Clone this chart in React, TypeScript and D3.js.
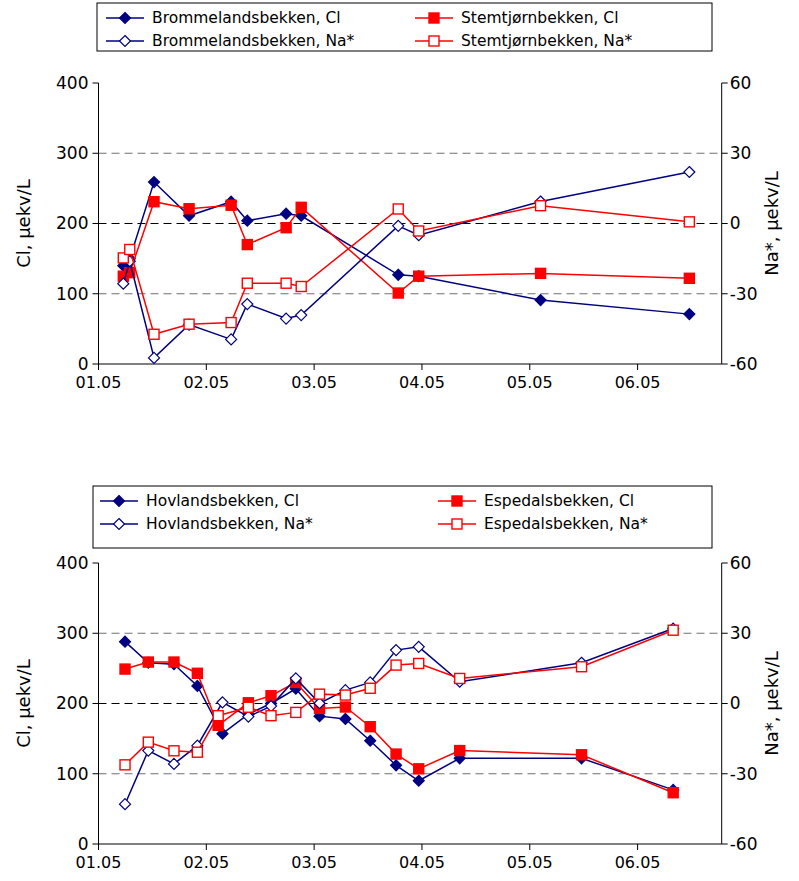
import React from 'react'
import * as d3 from 'd3'

// x values are months after 01.05 (fractional)
const topX1 = [0.23, 0.29, 0.515, 0.84, 1.23, 1.38, 1.74, 1.88, 2.78, 2.97, 4.1, 5.48]
const brommCl = [140, 150, 259, 211, 231, 204, 214, 211, 127, 125, 91, 71]
const stemCl = [125, 130, 231, 221, 226, 170, 194, 223, 101, 125, 129, 122]
const brommNa = [-25.7, -16.1, -57.4, -43.2, -49.5, -34.4, -40.6, -39.1, -1, -5, 9.4, 22]
const stemNa = [-14.7, -11.1, -47.3, -43, -42.3, -25.5, -25.5, -26.9, 6.2, -3.2, 7.6, 0.7]

const botX = [0.246, 0.462, 0.7, 0.917, 1.15, 1.39, 1.6, 1.83, 2.05, 2.29, 2.52, 2.76, 2.97, 3.35, 4.48, 5.33]
const espX = [0.246, 0.462, 0.7, 0.917, 1.11, 1.39, 1.6, 1.83, 2.05, 2.29, 2.52, 2.76, 2.97, 3.35, 4.48, 5.33]
const hovCl = [288, 258, 256, 225, 157, 185, 200, 221, 182, 178, 147, 112, 90, 122, 122, 77]
const hovNa = [-43, -20.1, -25.8, -18, 0.5, -5.6, -1.1, 10.7, 0.1, 5.7, 9, 22.8, 24.2, 9.3, 17.4, 32]
const espCl = [249, 259, 259, 243, 169, 201, 211, 230, 193, 195, 167, 128, 107, 133, 127, 73]
const espNa = [-26.2, -16.5, -20.2, -20.8, -5.2, -1.6, -5.2, -3.8, 4, 3.6, 6.5, 16.4, 17.1, 10.7, 15.7, 31.3]

const monthLabels = ['01.05', '02.05', '03.05', '04.05', '05.05', '06.05']
const clTicks = [0, 100, 200, 300, 400]
const naTicks = [-60, -30, 0, 30, 60]

const NAVY = '#000080'
const RED = '#ff0000'
const FONT = '"DejaVu Sans", Arial, sans-serif'

type Series = { name: string; x: number[]; y: number[]; color: string; shape: 'diamond' | 'square'; filled: boolean; axis: 'cl' | 'na' }

function Marker({ shape, filled, color, cx, cy }: { shape: string; filled: boolean; color: string; cx: number; cy: number }) {
  if (shape === 'diamond') {
    const r = 5.5
    return <path d={`M${cx},${cy - r}L${cx + r},${cy}L${cx},${cy + r}L${cx - r},${cy}Z`} fill={filled ? color : '#fff'} stroke={color} strokeWidth={1.2} />
  }
  const s = 5
  return <rect x={cx - s} y={cy - s} width={2 * s} height={2 * s} fill={filled ? color : '#fff'} stroke={color} strokeWidth={1.4} />
}

function Panel({ top, series, legendCols, legendBox }: { top: number; series: Series[]; legendCols: number[]; legendBox: [number, number, number, number] }) {
  const left = 98.5
  const right = 721.7
  const y0 = top + 281
  const y1 = top
  const x = d3.scaleLinear().domain([0, 5.78]).range([left, right])
  const yCl = d3.scaleLinear().domain([0, 400]).range([y0, y1])
  const yNa = d3.scaleLinear().domain([-60, 60]).range([y0, y1])
  const [bx, by, bw, bh] = legendBox
  return (
    <g fontFamily={FONT}>
      {[100, 200, 300].map((v) => (
        <line key={v} x1={left} x2={right} y1={yCl(v)} y2={yCl(v)} stroke={v === 200 ? '#000' : '#707070'} strokeDasharray="8,5" strokeWidth={1.2} />
      ))}
      <line x1={left} x2={left} y1={y1} y2={y0} stroke="#000" />
      <line x1={right} x2={right} y1={y1} y2={y0} stroke="#000" />
      <line x1={left} x2={right} y1={y0} y2={y0} stroke="#000" />
      {clTicks.map((v) => (
        <g key={v}>
          <line x1={left - 6} x2={left} y1={yCl(v)} y2={yCl(v)} stroke="#000" />
          <text x={left - 10} y={yCl(v)} dy="0.35em" textAnchor="end" fontSize={17}>{v}</text>
        </g>
      ))}
      {naTicks.map((v) => (
        <g key={v}>
          <line x1={right} x2={right + 6} y1={yNa(v)} y2={yNa(v)} stroke="#000" />
          <text x={right + 8} y={yNa(v)} dy="0.35em" textAnchor="start" fontSize={17}>{v}</text>
        </g>
      ))}
      {monthLabels.map((m, i) => (
        <g key={m}>
          <line x1={x(i)} x2={x(i)} y1={y0} y2={y0 + 6} stroke="#000" />
          <text x={x(i)} y={y0 + 24} textAnchor="middle" fontSize={16}>{m}</text>
        </g>
      ))}
      <text transform={`translate(30,${(y0 + y1) / 2}) rotate(-90)`} textAnchor="middle" fontSize={18}>Cl, µekv/L</text>
      <text transform={`translate(778,${(y0 + y1) / 2}) rotate(-90)`} textAnchor="middle" fontSize={18}>Na*, µekv/L</text>
      {series.map((s) => {
        const ys = s.axis === 'cl' ? yCl : yNa
        const line = d3.line<number>().x((_, i) => x(s.x[i])).y((d) => ys(d))
        return (
          <g key={s.name}>
            <path d={line(s.y) || ''} fill="none" stroke={s.color} strokeWidth={1.5} />
            {s.y.map((v, i) => (
              <Marker key={i} shape={s.shape} filled={s.filled} color={s.color} cx={x(s.x[i])} cy={ys(v)} />
            ))}
          </g>
        )
      })}
      <rect x={bx} y={by} width={bw} height={bh} fill="#fff" stroke="#000" />
      {series.map((s, i) => {
        const col = i % 2 === 0 ? 0 : 1
        const row = s.axis === 'cl' ? 0 : 1
        const lx = legendCols[col]
        const ly = by + 15 + row * 23
        return (
          <g key={s.name}>
            <line x1={lx} x2={lx + 38} y1={ly} y2={ly} stroke={s.color} strokeWidth={1.5} />
            <Marker shape={s.shape} filled={s.filled} color={s.color} cx={lx + 19} cy={ly} />
            <text x={lx + 46} y={ly} dy="0.35em" fontSize={15.5}>{s.name}</text>
          </g>
        )
      })}
    </g>
  )
}

export default function App() {
  const topSeries: Series[] = [
    { name: 'Brommelandsbekken, Cl', x: topX1, y: brommCl, color: NAVY, shape: 'diamond', filled: true, axis: 'cl' },
    { name: 'Stemtjørnbekken, Cl', x: topX1, y: stemCl, color: RED, shape: 'square', filled: true, axis: 'cl' },
    { name: 'Brommelandsbekken, Na*', x: topX1, y: brommNa, color: NAVY, shape: 'diamond', filled: false, axis: 'na' },
    { name: 'Stemtjørnbekken, Na*', x: topX1, y: stemNa, color: RED, shape: 'square', filled: false, axis: 'na' },
  ]
  const botSeries: Series[] = [
    { name: 'Hovlandsbekken, Cl', x: botX, y: hovCl, color: NAVY, shape: 'diamond', filled: true, axis: 'cl' },
    { name: 'Espedalsbekken, Cl', x: espX, y: espCl, color: RED, shape: 'square', filled: true, axis: 'cl' },
    { name: 'Hovlandsbekken, Na*', x: botX, y: hovNa, color: NAVY, shape: 'diamond', filled: false, axis: 'na' },
    { name: 'Espedalsbekken, Na*', x: espX, y: espNa, color: RED, shape: 'square', filled: false, axis: 'na' },
  ]
  return (
    <svg width={799} height={881} style={{ position: 'absolute', left: 0, top: 0, background: '#fff' }}>
      <Panel top={83} series={topSeries} legendCols={[106, 415]} legendBox={[97, 3, 615, 48]} />
      <Panel top={563} series={botSeries} legendCols={[100, 438]} legendBox={[93, 486, 619, 62]} />
    </svg>
  )
}
